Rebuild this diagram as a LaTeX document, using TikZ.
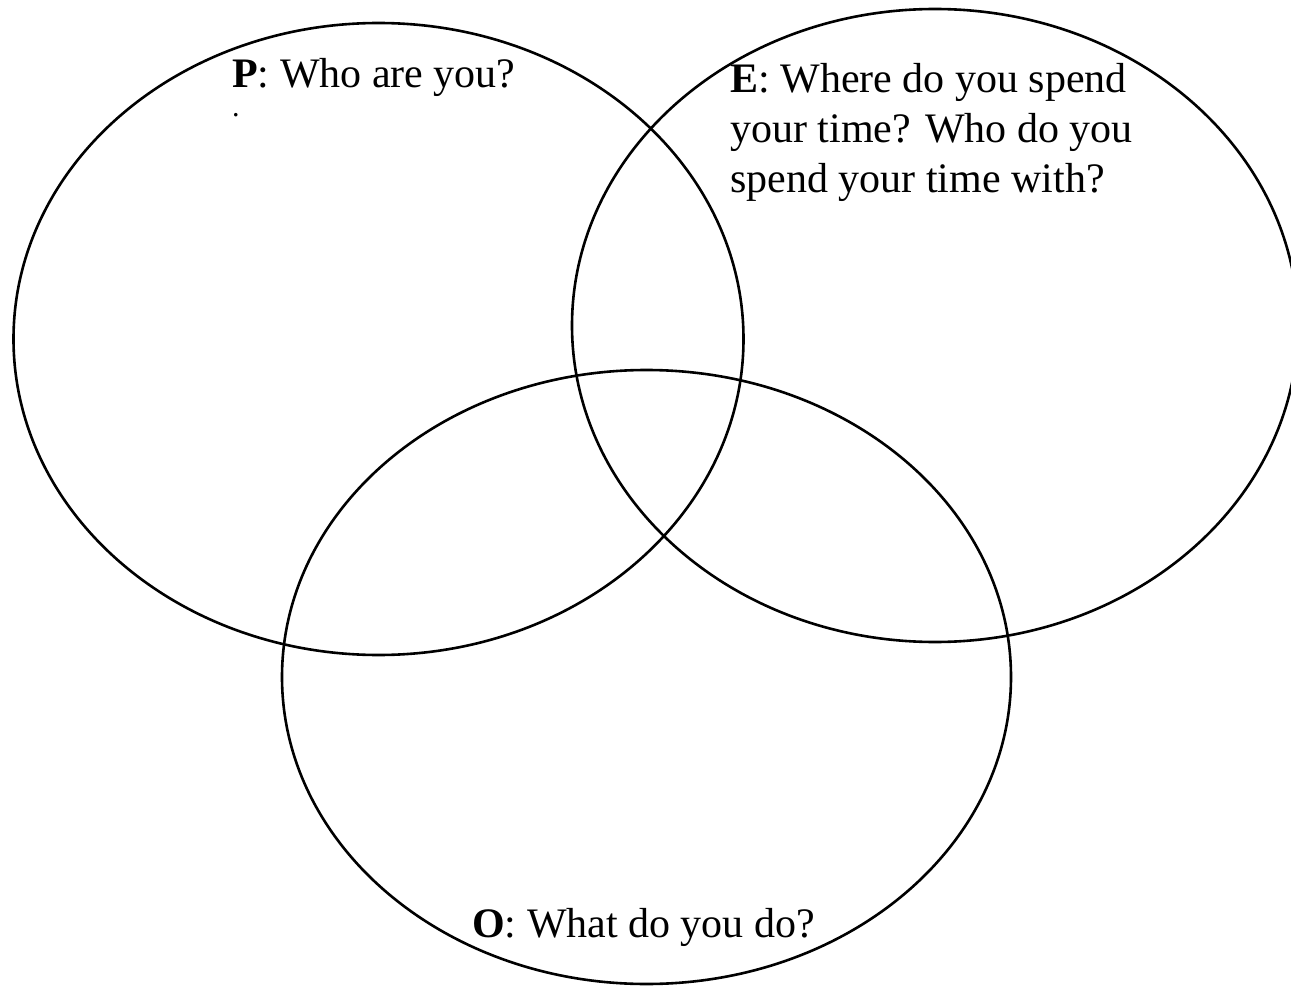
\documentclass[tikz,border=0pt]{standalone}
\usepackage{fontspec}
\setmainfont{Liberation Serif}
\usetikzlibrary{shapes.geometric}
\begin{document}
\begin{tikzpicture}[x=1pt,y=-1pt,
  venn/.style={ellipse, draw=black, line width=2.6pt, inner sep=0pt, outer sep=0pt},
  lbl/.style={anchor=base west, inner sep=0pt, align=left, font=\fontsize{42}{50}\selectfont}]
\useasboundingbox (0,0) rectangle (1291,987);
\node[venn, minimum width=730pt, minimum height=632pt] (P) at (378.5,339) {};
\node[venn, minimum width=726pt, minimum height=633pt] (E) at (935,325.5) {};
\node[venn, minimum width=729pt, minimum height=614pt] (O) at (646.5,677) {};
\node[lbl] (Pt) at (232,88) {\textbf{P}: Who are you?};
\node[anchor=base west, inner sep=0pt, font=\fontsize{30}{36}\selectfont] (Pd) at (232,117) {.};
\node[lbl] (Et) at (730,193) {\textbf{E}: Where do you spend\\your time? Who do you\\spend your time with?};
\node[lbl] (Ot) at (472,937) {\textbf{O}: What do you do?};
\end{tikzpicture}
\end{document}
